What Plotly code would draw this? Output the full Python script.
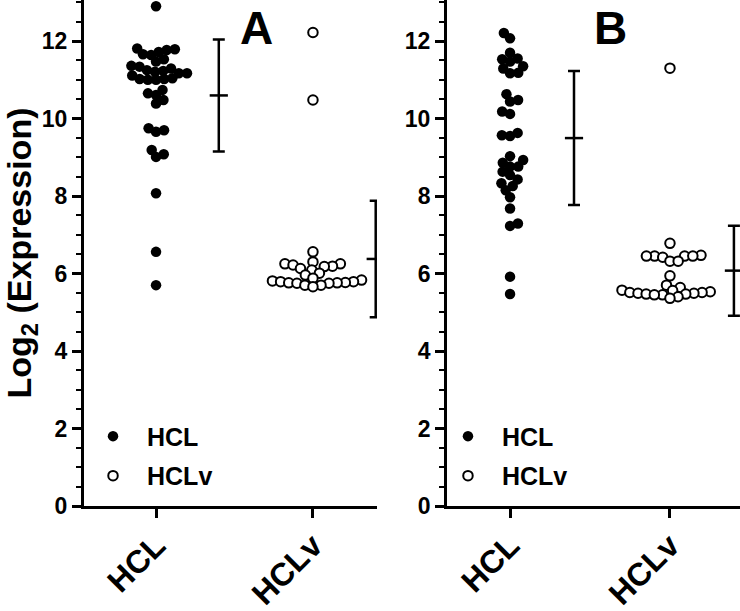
import numpy as np
import plotly.graph_objects as go

# ---------------- data ----------------
categories = ["HCL", "HCLv"]
y_tick_values = [0, 2, 4, 6, 8, 10, 12]
panel_letters = ["A", "B"]

a_hcl = [12.90, 11.81, 11.79, 11.77, 11.72, 11.66, 11.64, 11.53,
         11.47, 11.36, 11.34, 11.29, 11.25, 11.23, 11.21, 11.17, 11.17, 11.11,
         11.04, 11.02, 11.02, 11.00, 11.00,
         10.74, 10.65, 10.61, 10.48, 10.39,
         9.75, 9.70, 9.66, 9.19, 9.08, 9.01, 8.07, 6.56, 5.70]
a_hclv = [12.22, 10.48, 6.56,
          6.30, 6.25, 6.25, 6.22, 6.19, 6.18, 6.13, 6.09, 6.01, 5.96,
          5.88, 5.83, 5.81, 5.79, 5.79, 5.77, 5.76, 5.76, 5.75, 5.75, 5.70, 5.70, 5.66]
b_hcl = [12.21, 12.07, 11.70,
         11.55, 11.53, 11.47, 11.35, 11.29, 11.18, 11.17,
         10.63, 10.48, 10.44, 10.18, 10.12,
         9.63, 9.57, 9.55,
         9.03, 8.93, 8.86, 8.76, 8.76, 8.63, 8.54, 8.43, 8.33, 8.26,
         8.15, 7.97, 7.68, 7.29, 7.23, 5.92, 5.47]
b_hclv = [11.30, 6.78,
          6.47, 6.45, 6.45, 6.45, 6.45, 6.42, 6.32, 6.32,
          5.94,
          5.70, 5.64, 5.57, 5.56, 5.53, 5.51, 5.51, 5.49, 5.49, 5.47, 5.47,
          5.45, 5.45, 5.40, 5.36]

# ---------------- layout geometry ----------------
W, H = 740, 611
ML, MR, MT, MB = 84, 0, 0, 105
Y_RANGE = [0, 13.06]
XA_DOMAIN = [0.0, 0.4466]
XB_DOMAIN = [0.5534, 1.0]
XA_RANGE = [-0.459, 1.408]
XB_RANGE = [-0.394, 1.438]
BAR_OFFSET = 0.4
COLLIDE = 8.2  # px
FONT = "Liberation Sans"

plot_w = W - ML - MR
plot_h = H - MT - MB
py_per_unit = plot_h / (Y_RANGE[1] - Y_RANGE[0])


def px_per_x(domain, rng):
    return plot_w * (domain[1] - domain[0]) / (rng[1] - rng[0])


def beeswarm(vals, ppx, ppy, d=COLLIDE):
    vals = np.asarray(vals, float)
    order = np.argsort(vals, kind="stable")
    placed = []
    xs = np.zeros(len(vals))
    side = 1
    for i in order:
        y = vals[i] * ppy
        ints = []
        for xp, yp in placed:
            dy = abs(y - yp)
            if dy < d:
                h = np.sqrt(d * d - dy * dy)
                ints.append((xp - h, xp + h))
        cands = [0.0] + [a for a, b in ints] + [b for a, b in ints]
        feas = [c for c in cands if all(not (a + 1e-6 < c < b - 1e-6) for a, b in ints)]
        best = min(abs(c) for c in feas)
        opts = [c for c in feas if abs(abs(c) - best) < 0.3]
        pick = opts[0]
        for c in opts:
            if np.sign(c) == side:
                pick = c
                break
        if pick != 0:
            side = -int(np.sign(pick))
        xs[i] = pick / ppx
        placed.append((pick, y))
    return xs


fig = go.Figure()

panels = [
    ("x", "y", XA_DOMAIN, XA_RANGE, a_hcl, a_hclv, "legend"),
    ("x2", "y2", XB_DOMAIN, XB_RANGE, b_hcl, b_hclv, "legend2"),
]

for xref, yref, dom, rng, hcl, hclv, leg in panels:
    ppx = px_per_x(dom, rng)
    for ci, (vals, filled) in enumerate([(hcl, True), (hclv, False)]):
        offs = beeswarm(vals, ppx, py_per_unit)
        fig.add_trace(go.Scatter(
            x=ci + offs, y=vals, mode="markers", xaxis=xref, yaxis=yref,
            name=categories[ci], legend=leg, legendgroup=categories[ci],
            marker=dict(size=10.5 if filled else 9.5,
                        color="black" if filled else "white",
                        line=dict(color="black", width=0 if filled else 2)),
        ))
    for ci, vals in enumerate([hcl, hclv]):
        m = float(np.mean(vals))
        sd = float(np.std(vals, ddof=1))
        fig.add_trace(go.Scatter(
            x=[ci + BAR_OFFSET], y=[m], mode="markers", xaxis=xref, yaxis=yref,
            showlegend=False,
            marker=dict(symbol="line-ew", size=13, color="black",
                        line=dict(color="black", width=2.5)),
            error_y=dict(type="data", array=[sd], width=6, thickness=2.5, color="black"),
        ))

axis_common = dict(showline=True, linecolor="black", linewidth=3, showgrid=False,
                   zeroline=False, ticks="outside", tickcolor="black")

yaxis_common = dict(axis_common, range=Y_RANGE, tickvals=y_tick_values, ticklen=9, tickwidth=2.5,
                    tickfont=dict(family=FONT, size=23, color="black", weight="bold"),
                    minor=dict(dtick=0.5, tick0=0, ticks="outside", ticklen=5, tickwidth=2,
                               tickcolor="black", showgrid=False))

xaxis_common = dict(axis_common, tickvals=[0, 1], ticktext=categories, ticklen=9, tickwidth=2.5,
                    tickangle=-45, ticklabelstandoff=-4,
                    tickfont=dict(family=FONT, size=32, color="black", weight="bold"))

legend_common = dict(font=dict(family=FONT, size=25, color="black", weight="bold"),
                     bgcolor="rgba(0,0,0,0)", traceorder="grouped", tracegroupgap=4,
                     xanchor="left", yanchor="top", itemwidth=58)

letter_font = dict(family=FONT, size=46, color="black", weight="bold")

fig.update_layout(
    width=W, height=H, margin=dict(l=ML, r=MR, t=MT, b=MB, autoexpand=False),
    paper_bgcolor="white", plot_bgcolor="white",
    xaxis=dict(xaxis_common, domain=XA_DOMAIN, range=XA_RANGE, anchor="y"),
    yaxis=dict(yaxis_common, domain=[0, 1], anchor="x",
               title=dict(text="Log<sub>2</sub> (Expression)", standoff=12,
                          font=dict(family=FONT, size=34, color="black", weight="bold"))),
    xaxis2=dict(xaxis_common, domain=XB_DOMAIN, range=XB_RANGE, anchor="y2"),
    yaxis2=dict(yaxis_common, domain=[0, 1], anchor="x2"),
    legend=dict(legend_common, x=-0.0076, y=0.183),
    legend2=dict(legend_common, x=0.5335, y=0.183),
    annotations=[
        dict(text=panel_letters[0], x=0.263, y=1.0, xref="paper", yref="paper",
             xanchor="center", yanchor="top", showarrow=False, font=letter_font),
        dict(text=panel_letters[1], x=0.802, y=1.0, xref="paper", yref="paper",
             xanchor="center", yanchor="top", showarrow=False, font=letter_font),
    ],
)

fig.write_html("out.html", config={"displayModeBar": False},
               post_script="document.body.style.margin='0';")
